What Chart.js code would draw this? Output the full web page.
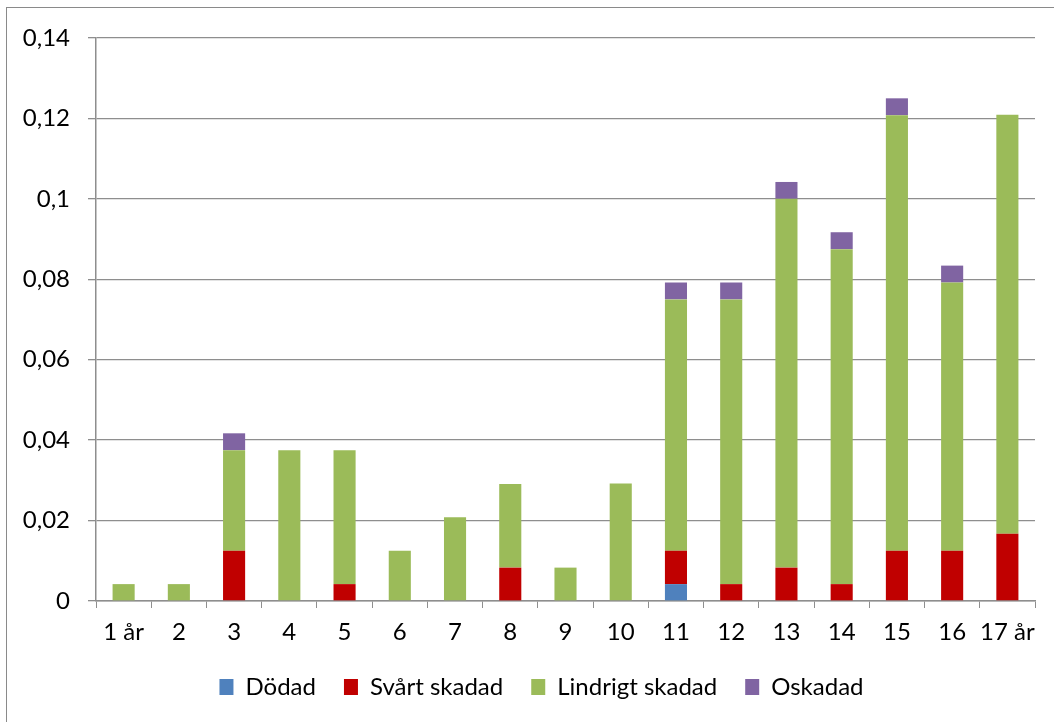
<!DOCTYPE html>
<html>
<head>
<meta charset="utf-8">
<script src="https://cdn.jsdelivr.net/npm/chart.js@4/dist/chart.umd.min.js"></script>
<style>
  html, body { margin: 0; padding: 0; background: #fff; }
  #wrap { width: 1054px; height: 722px; }
</style>
</head>
<body>
<div id="wrap"><canvas id="chart" width="1054" height="722"></canvas></div>
<script>
// ---- data ----
const categories = ['1 år','2','3','4','5','6','7','8','9','10','11','12','13','14','15','16','17 år'];
const dodad     = [0, 0, 0, 0, 0, 0, 0, 0, 0, 0, 0.0042, 0, 0, 0, 0, 0, 0];
const svartSkad = [0, 0, 0.0125, 0, 0.0042, 0, 0, 0.0083, 0, 0, 0.0083, 0.0042, 0.0083, 0.0042, 0.0125, 0.0125, 0.0167];
const lindrigt  = [0.0042, 0.0042, 0.025, 0.0375, 0.0333, 0.0125, 0.0208, 0.0208, 0.0083, 0.0292, 0.0625, 0.0708, 0.0917, 0.0833, 0.1083, 0.0667, 0.1042];
const oskadad   = [0, 0, 0.0042, 0, 0, 0, 0, 0, 0, 0, 0.0042, 0.0042, 0.0042, 0.0042, 0.0042, 0.0042, 0];
const yTickLabels = ['0','0,02','0,04','0,06','0,08','0,1','0,12','0,14'];

const FONT = 'Lato, "Open Sans", sans-serif';
const FONT_SIZE = 24;
const GRID = '#8e8e8e';

// thin frame around the whole chart (cut off at right/bottom)
const framePlugin = {
  id: 'frame',
  beforeDraw(chart) {
    const ctx = chart.ctx;
    ctx.save();
    ctx.fillStyle = '#fff';
    ctx.fillRect(0, 0, chart.width, chart.height);
    ctx.strokeStyle = '#8a8a8a';
    ctx.lineWidth = 1;
    ctx.strokeRect(6.5, 7.5, 1060, 730);
    ctx.restore();
  }
};

// nudge the legend row a little to the right
const legendShift = {
  id: 'legendShift',
  afterLayout(chart) {
    if (!chart.legend) return;
    chart.legend.left += 24;
    chart.legend.right += 24;
  }
};

const mk = (label, data, color) => ({
  label, data, backgroundColor: color, borderWidth: 0,
  barPercentage: 0.4, categoryPercentage: 1.0
});

new Chart(document.getElementById('chart'), {
  type: 'bar',
  data: {
    labels: categories,
    datasets: [
      mk('Dödad', dodad, '#4f81bd'),
      mk('Svårt skadad', svartSkad, '#c00000'),
      mk('Lindrigt skadad', lindrigt, '#9bbb59'),
      mk('Oskadad', oskadad, '#8064a2')
    ]
  },
  plugins: [framePlugin, legendShift],
  options: {
    responsive: false,
    animation: false,
    layout: { padding: { left: 0, right: 19, top: 38, bottom: 13 } },
    plugins: {
      tooltip: { enabled: false },
      legend: {
        position: 'bottom',
        labels: {
          font: { family: FONT, size: FONT_SIZE },
          color: '#000',
          boxWidth: 14,
          boxHeight: 16,
          padding: 28
        }
      }
    },
    scales: {
      x: {
        stacked: true,
        grid: { drawOnChartArea: false, drawTicks: true, tickLength: 7, color: GRID, offset: true },
        border: { color: GRID, width: 1.5 },
        ticks: { font: { family: FONT, size: FONT_SIZE }, color: '#000', padding: 10, maxRotation: 0, autoSkip: false },
        afterFit(axis) { axis.height = 46; }
      },
      y: {
        stacked: true,
        min: 0,
        max: 0.14,
        grid: { color: GRID, lineWidth: 1.3, tickLength: 8 },
        border: { color: GRID, width: 1.5 },
        ticks: {
          stepSize: 0.02,
          font: { family: FONT, size: FONT_SIZE },
          color: '#000',
          padding: 18,
          callback: (v, i) => yTickLabels[i]
        },
        afterFit(axis) { axis.width = 96; }
      }
    }
  }
});
</script>
</body>
</html>
